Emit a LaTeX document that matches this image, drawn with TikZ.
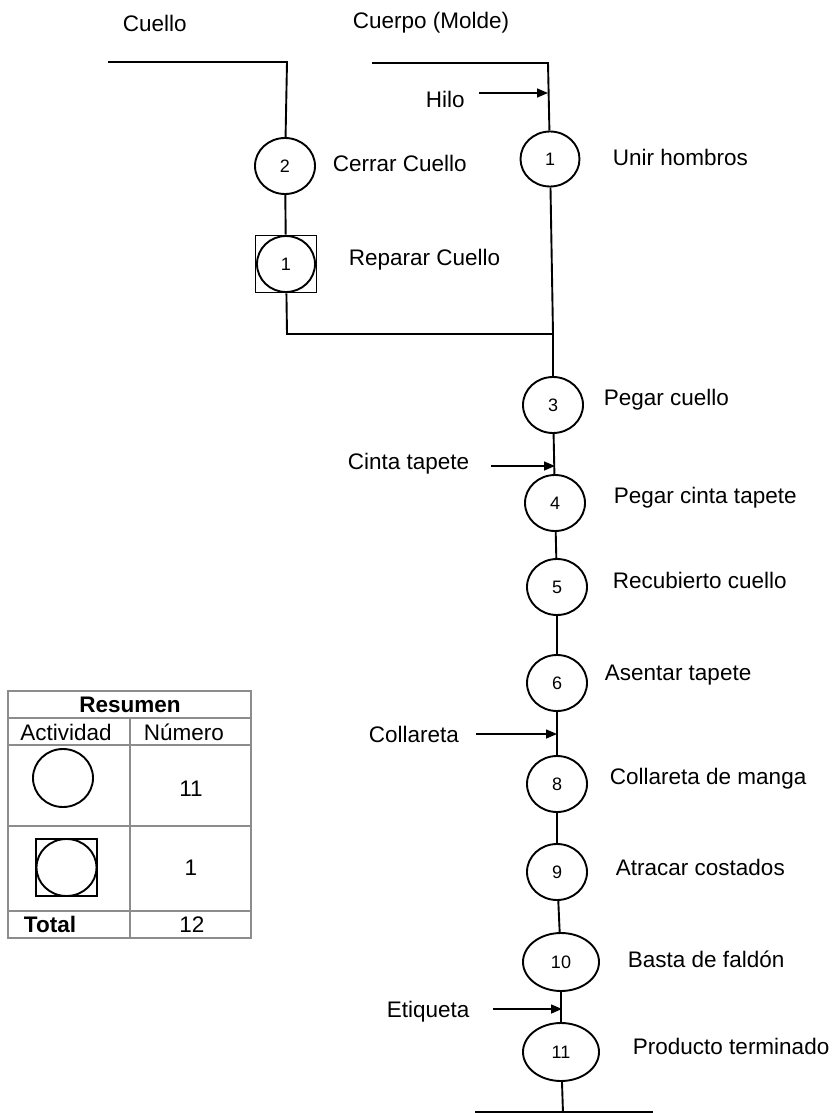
\documentclass[tikz,border=0pt]{standalone}
\usepackage{fontspec}
\setmainfont{Liberation Sans}
\usetikzlibrary{shapes.geometric,arrows.meta}
\begin{document}
\begin{tikzpicture}[x=1pt,y=-1pt,
  line width=1.9pt,
  proc/.style={draw,ellipse,inner sep=0pt,minimum width=60pt,minimum height=56pt,
    font=\fontsize{18}{21}\selectfont},
  wideproc/.style={proc,minimum width=76pt,minimum height=58pt},
  insp/.style={draw,rectangle,inner sep=0pt,minimum width=61pt,minimum height=57pt},
  lbl/.style={anchor=base west,inner sep=0pt,font=\fontsize{22.5}{27}\selectfont},
  clbl/.style={anchor=base,inner sep=0pt,font=\fontsize{22.5}{27}\selectfont},
  feed/.style={-{Triangle[length=11pt,width=9pt]},line width=1.5pt},
  grid/.style={line width=1.1pt,draw=black!45}]
\useasboundingbox (0,0) rectangle (836,1113);

% Column headings
\node[lbl] (tcuello) at (122,32) {Cuello};
\node[lbl] (tcuerpo) at (352,29) {Cuerpo (Molde)};

% Collar branch
\coordinate (cuelloA) at (108,62);
\coordinate (cuelloB) at (287,62);
\node[proc] (c2) at (285,166) {2};
\node[lbl] (lc2) at (332,171) {Cerrar Cuello};
\node[insp] (r1box) at (286,264) {};
\node[proc,minimum width=58pt,minimum height=56pt] (r1) at (286,264) {1};
\node[lbl] (lr1) at (348,265) {Reparar Cuello};
\coordinate (cornerL) at (287,334);
\coordinate (join) at (553,334);

% Body branch
\coordinate (cuerpoA) at (372,63);
\coordinate (cuerpoB) at (548,63);
\coordinate (hiloIn) at (548,93);
\node[lbl] (thilo) at (425,108) {Hilo};
\coordinate (hiloA) at (479,93);
\node[proc,minimum width=59pt,minimum height=55pt] (c1) at (550,159) {1};
\node[lbl] (lc1) at (612,165) {Unir hombros};

% Main line
\node[proc] (c3) at (553,405) {3};
\node[lbl] (lc3) at (603,405) {Pegar cuello};
\coordinate (cintaIn) at (555,466);
\coordinate (cintaA) at (491,466);
\node[lbl] (tcinta) at (347,469) {Cinta tapete};
\node[proc] (c4) at (555,503) {4};
\node[lbl] (lc4) at (613,503) {Pegar cinta tapete};
\node[proc] (c5) at (557,587) {5};
\node[lbl] (lc5) at (612,588) {Recubierto cuello};
\node[proc] (c6) at (557,683) {6};
\node[lbl] (lc6) at (604,680) {Asentar tapete};
\coordinate (collIn) at (557,734);
\coordinate (collA) at (476,734);
\node[lbl] (tcoll) at (368,742) {Collareta};
\node[proc] (c8) at (557,784) {8};
\node[lbl] (lc8) at (609,784) {Collareta de manga};
\node[proc] (c9) at (557,872) {9};
\node[lbl] (lc9) at (615,875) {Atracar costados};
\node[wideproc] (c10) at (561,962) {10};
\node[lbl] (lc10) at (627,967) {Basta de faldón};
\coordinate (etiqIn) at (562,1009);
\coordinate (etiqA) at (493,1009);
\node[lbl] (tetiq) at (386,1017) {Etiqueta};
\node[wideproc] (c11) at (561,1052) {11};
\node[lbl] (lc11) at (632,1054) {Producto terminado};
\coordinate (endV) at (563,1113);
\coordinate (endL) at (475,1112);
\coordinate (endR) at (653,1112);

% Connectors
\draw (cuelloA) -- (cuelloB) -- (c2);
\draw (c2) -- (r1box);
\draw (r1box) -- (cornerL) -- (join);
\draw (cuerpoA) -- (cuerpoB) -- (c1);
\draw (c1) -- (join) -- (c3);
\draw (c3) -- (c4);
\draw (c4) -- (c5);
\draw (c5) -- (c6);
\draw (c6) -- (c8);
\draw (c8) -- (c9);
\draw (c9) -- (c10);
\draw (c10) -- (c11);
\draw (c11) -- (endV);
\draw (endL) -- (endR);

% Material inputs
\draw[feed] (hiloA) -- (hiloIn);
\draw[feed] (cintaA) -- (cintaIn);
\draw[feed] (collA) -- (collIn);
\draw[feed] (etiqA) -- (etiqIn);

% Summary table
\draw[grid] (8,691) rectangle (251,938);
\draw[grid] (8,718) -- (251,718);
\draw[grid] (8,745) -- (251,745);
\draw[grid] (8,826) -- (251,826);
\draw[grid] (8,911) -- (251,911);
\draw[grid] (130,718) -- (130,938);
\node[clbl,font=\fontsize{22.5}{27}\selectfont\bfseries] (tres) at (130,712) {Resumen};
\node[clbl] (tact) at (66,740) {Actividad};
\node[clbl] (tnum) at (184,740) {Número};
\node[proc,minimum width=60pt,minimum height=58pt] (sym1) at (63,778) {};
\node[clbl] (n11) at (191,796) {11};
\node[insp] (sym2box) at (66.5,867.5) {};
\node[proc,minimum width=60pt,minimum height=57pt] (sym2) at (66.5,867.5) {};
\node[clbl] (n1) at (191,875) {1};
\node[lbl,font=\fontsize{22.5}{27}\selectfont\bfseries] (ttot) at (23,932) {Total};
\node[clbl] (n12) at (192,932) {12};
\end{tikzpicture}
\end{document}
